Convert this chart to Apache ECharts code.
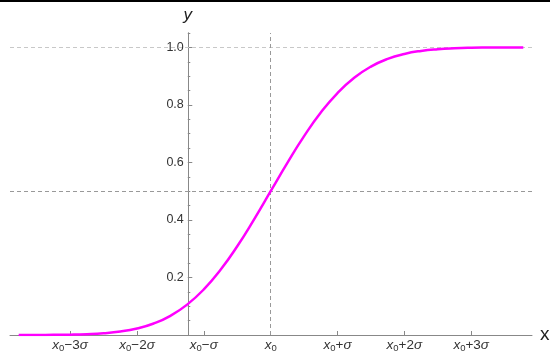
<!DOCTYPE html>
<html>
<head>
<meta charset="utf-8">
<script src="https://cdn.jsdelivr.net/npm/echarts@6/dist/echarts.min.js"></script>
<style>html,body{margin:0;padding:0;background:#fff}#c{width:550px;height:353px}</style>
</head>
<body>
<div id="c"></div>
<script>
// x positions in units of sigma, relative to x0
var sigmaOffsets = [-3.77,-3.5,-3.25,-3.0,-2.75,-2.5,-2.25,-2.0,-1.75,-1.5,-1.25,-1.0,-0.75,-0.5,-0.25,0,0.25,0.5,0.75,1.0,1.25,1.5,1.75,2.0,2.25,2.5,2.75,3.0,3.25,3.5,3.78];
// curve values
var yValues = [0.0001,0.0002,0.0006,0.0013,0.003,0.0062,0.0122,0.0228,0.040,0.0668,0.1056,0.1587,0.2266,0.3085,0.4013,0.5,0.5987,0.6915,0.7734,0.8413,0.8944,0.9332,0.960,0.9772,0.9878,0.9938,0.997,0.9987,0.9994,0.9998,0.9999];
// tick labels on x axis (sigma multiples)
var xTickSigma = [-3,-2,-1,0,1,2,3];
var xTickText = ['{i|x}{s|0}\u22123{i|\u03c3}','{i|x}{s|0}\u22122{i|\u03c3}','{i|x}{s|0}\u2212{i|\u03c3}','{i|x}{s|0}','{i|x}{s|0}+{i|\u03c3}','{i|x}{s|0}+2{i|\u03c3}','{i|x}{s|0}+3{i|\u03c3}'];
var yMajorTicks = [0.2,0.4,0.6,0.8,1.0];
var yMinorTicks = [0.05,0.1,0.15,0.25,0.3,0.35,0.45,0.5,0.55,0.65,0.7,0.75,0.85,0.9,0.95,1.05];
var refLinesY = [1.0, 0.5];
var yAxisAtSigma = -1.24; // where the y axis crosses, in sigma units from x0
var xRangeSigma = [-3.9, 3.91];

var shift = -yAxisAtSigma;
var data = sigmaOffsets.map(function(t,i){return [t+shift, yValues[i]];});
var xTickPos = xTickSigma.map(function(k){return +(k+shift).toFixed(4);});

var chart = echarts.init(document.getElementById('c'), null, {renderer:'canvas'});
var font = 'Liberation Sans, Arial, sans-serif';
var rich = {
  i:{fontStyle:'italic', fontSize:13.5, fontFamily:font, color:'#333'},
  s:{fontSize:9.5, fontFamily:font, color:'#333', verticalAlign:'bottom', padding:[5,0,0,0]}
};
var gridLeft = 10;
chart.setOption({
  animation:false,
  backgroundColor:'#fff',
  grid:{left:gridLeft, right:18, top:33, bottom:18, outerBoundsMode:'none', containLabel:false},
  graphic:[{type:'rect', shape:{x:0,y:0,width:550,height:2}, style:{fill:'#000'}, z:100}],
  xAxis:{
    type:'value', min:+(xRangeSigma[0]+shift).toFixed(4), max:+(xRangeSigma[1]+shift).toFixed(4),
    name:'x', nameLocation:'end', nameGap:8,
    nameTextStyle:{fontSize:19, fontFamily:font, color:'#222', verticalAlign:'middle', padding:[2,0,0,0]},
    axisLine:{onZero:true, lineStyle:{color:'#888', width:1}},
    axisTick:{show:true, inside:true, length:4, lineStyle:{color:'#888'}, customValues:xTickPos},
    axisLabel:{show:true, margin:3, fontSize:13.5, fontFamily:font, color:'#333', rich:rich,
      customValues:xTickPos,
      formatter:function(v){var k=Math.round(v-shift);var idx=xTickSigma.indexOf(k);return idx>=0?xTickText[idx]:'';}},
    splitLine:{show:false}
  },
  yAxis:[{
    type:'value', min:0, max:1.05, position:'left', offset:0,
    name:'y', nameLocation:'end', nameGap:9,
    nameTextStyle:{fontSize:17, fontStyle:'italic', fontFamily:font, color:'#222'},
    axisLine:{show:true, onZero:false, lineStyle:{color:'#888', width:1}},
    axisTick:{show:true, inside:true, length:4.5, lineStyle:{color:'#888'}, customValues:yMajorTicks},
    axisLabel:{show:true, margin:4, fontSize:12.5, fontFamily:font, color:'#333', customValues:yMajorTicks,
      formatter:function(v){return v.toFixed(1);}},
    splitLine:{show:false}
  },{
    type:'value', min:0, max:1.05, position:'left', offset:0,
    axisLine:{show:true, onZero:false, lineStyle:{color:'#888', width:1}},
    axisTick:{show:true, inside:true, length:2.5, lineStyle:{color:'#888'}, customValues:yMinorTicks},
    axisLabel:{show:false},
    splitLine:{show:false}
  }],
  series:[{
    type:'line', data:data, smooth:true, showSymbol:false, symbol:'none',
    lineStyle:{color:'#ff00ff', width:2.5},
    z:5,
    markLine:{
      silent:true, symbol:['none','none'], label:{show:false}, animation:false,
      data:[
        {yAxis:refLinesY[0], lineStyle:{color:'#c8c8c8', type:[4,3], width:1}},
        {yAxis:refLinesY[1], lineStyle:{color:'#999', type:[4,3], width:1}},
        {xAxis:shift, lineStyle:{color:'#999', type:[4,3], width:1}}
      ]
    }
  }]
});
// place the y axis where x equals the crossing value
var zeroPx = chart.convertToPixel({xAxisIndex:0}, 0);
var off = -(zeroPx - gridLeft);
chart.setOption({yAxis:[{offset:off},{offset:off}]});
</script>
</body>
</html>
